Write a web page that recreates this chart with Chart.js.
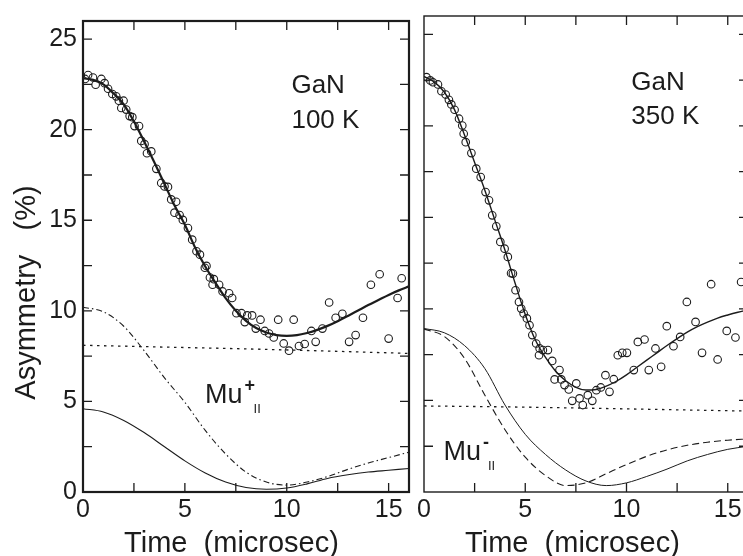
<!DOCTYPE html>
<html><head><meta charset="utf-8">
<script src="https://cdn.jsdelivr.net/npm/chart.js@4/dist/chart.umd.min.js"></script>
<style>
html,body{margin:0;padding:0;background:#fff;overflow:hidden;width:743px;height:556px;position:relative}
canvas{position:absolute;top:0}
#c1{left:0}
#c2{left:400px}
</style></head><body>
<canvas id="c1" width="420" height="556"></canvas>
<canvas id="c2" width="360" height="556"></canvas>
<script>
// ---- tick values ----
const xTickValues = [0, 5, 10, 15];
const yTickValues = [0, 5, 10, 15, 20, 25];
const xMinorValues = [2.5, 7.5, 12.5];
const yMinorValues = [2.5, 7.5, 12.5, 17.5, 22.5];

// ---- fit curves (time in microsec, asymmetry in %) ----
const fitTime = [0,0.5,1,1.5,2,2.5,3,3.5,4,4.5,5,5.5,6,6.5,7,7.5,8,8.5,9,9.5,10,10.5,11,11.5,12,12.5,13,13.5,14,14.5,15,15.5,16];
const fit100K = [22.85,22.75,22.5,22.0,21.4,20.45,19.35,18.2,17.0,15.8,14.75,13.5,12.45,11.55,10.7,10.0,9.45,9.05,8.8,8.66,8.62,8.66,8.78,8.95,9.17,9.43,9.72,10.02,10.32,10.6,10.88,11.13,11.35];
const fit350K = [22.7,22.4,21.85,20.9,19.5,18.0,16.5,14.85,13.2,11.4,9.7,8.3,7.35,6.6,6.08,5.72,5.57,5.6,5.78,6.05,6.4,6.8,7.2,7.6,8.0,8.38,8.73,9.03,9.28,9.5,9.67,9.82,9.95];

const compTime = [0,1,2,3,4,5,6,7,8,9,10,11,12,13,14,15,16];
const muPlus100K  = [10.2,9.95,9.15,7.8,6.3,4.95,3.4,2.1,1.1,0.55,0.38,0.55,0.85,1.25,1.6,1.9,2.2];
const solid100K   = [4.6,4.42,3.95,3.28,2.5,1.72,1.05,0.55,0.25,0.15,0.22,0.45,0.75,0.95,1.1,1.2,1.3];
const muMinus350K = [8.9,8.5,7.3,5.3,3.4,1.9,0.9,0.35,0.5,1.0,1.5,1.95,2.3,2.55,2.72,2.83,2.9];
const solid350K   = [8.93,8.7,8.0,6.75,4.75,3.15,2.05,1.2,0.6,0.35,0.5,0.85,1.25,1.7,2.05,2.33,2.5];

const flatTime = [0, 4, 8, 12, 16];
const flat100K = [8.1, 8.0, 7.9, 7.78, 7.65];
const flat350K = [4.7, 4.65, 4.58, 4.5, 4.42];

// ---- measured data points ----
const data100K_t = [0.1,0.25,0.49,0.62,0.9,1.06,1.23,1.44,1.63,1.76,1.88,1.99,2.12,2.29,2.42,2.53,2.75,2.86,3.02,3.14,3.35,3.6,3.84,4.0,4.17,4.33,4.49,4.57,4.74,4.9,5.15,5.36,5.57,5.74,5.98,6.06,6.23,6.36,6.42,6.68,6.85,7.17,7.32,7.53,7.78,7.94,8.06,8.3,8.48,8.71,8.92,9.13,9.36,9.58,9.85,10.11,10.34,10.6,10.88,11.21,11.42,11.75,12.08,12.4,12.73,13.06,13.38,13.74,14.13,14.56,15.0,15.44,15.64];
const data100K_a = [22.8,23.02,22.88,22.48,22.8,22.57,22.26,21.97,21.84,21.6,21.2,21.6,21.11,20.75,20.69,20.2,20.2,19.38,19.2,18.7,18.8,17.84,17.06,16.87,16.84,16.15,15.42,16.02,15.29,15.02,14.57,13.93,13.29,13.1,12.38,12.48,11.84,11.44,11.75,11.44,11.07,10.97,10.71,9.87,9.87,9.38,9.75,9.75,9.02,9.51,8.89,8.75,8.53,9.51,8.2,7.8,9.51,8.06,8.17,8.89,8.29,9.02,10.46,9.62,9.84,8.29,8.66,9.62,11.44,12.02,8.47,10.71,11.8];

const data350K_t = [0.12,0.31,0.44,0.69,0.86,1.07,1.23,1.35,1.51,1.73,1.89,1.96,2.06,2.34,2.58,2.8,3.04,3.21,3.37,3.57,3.77,3.98,4.14,4.3,4.39,4.52,4.69,4.8,4.92,5.08,5.21,5.35,5.54,5.68,5.71,5.87,6.12,6.33,6.45,6.69,6.78,6.94,7.15,7.32,7.52,7.68,7.84,8.09,8.31,8.51,8.73,8.96,9.16,9.37,9.57,9.79,10.02,10.36,10.56,10.89,11.1,11.43,11.71,11.99,12.32,12.65,12.98,13.41,13.73,14.18,14.5,14.95,15.38,15.66];
const data350K_a = [22.66,22.48,22.38,22.26,21.89,21.71,21.42,21.17,20.88,20.39,20.02,19.57,19.11,18.51,17.66,17.2,16.38,15.93,15.11,14.51,13.66,13.29,12.84,11.95,11.93,11.02,10.38,10.02,9.75,9.48,9.11,8.57,8.11,7.47,7.84,7.75,7.75,7.16,6.15,6.66,6.15,5.84,5.6,4.98,5.93,5.11,4.75,5.29,4.98,5.56,5.71,6.38,5.47,6.16,7.47,7.6,7.6,6.66,8.2,8.33,6.66,7.84,6.84,9.06,7.96,8.47,10.38,9.29,7.6,11.35,7.24,8.8,8.44,11.47];

// ---- helpers ----
const FONT = '"Liberation Sans", Arial, Helvetica, sans-serif';
const INK = '#1c1c1c';
const zip = (xs, ys) => xs.map((x, i) => ({x: x, y: ys[i]}));

function lineSet(xs, ys, width, dash) {
  return {type: 'line', data: zip(xs, ys), borderColor: INK, borderWidth: width,
    borderDash: dash || [], pointRadius: 0, fill: false,
    cubicInterpolationMode: 'monotone', tension: 0.4};
}
function pointSet(xs, ys) {
  return {type: 'scatter', data: zip(xs, ys), showLine: false, pointStyle: 'circle',
    pointRadius: 3.8, borderWidth: 1.1, borderColor: INK, backgroundColor: 'rgba(0,0,0,0)'};
}
function makeScales(showYLabels, yWidth) {
  return {
    x: {type: 'linear', min: 0, max: 16,
      grid: {display: false, drawTicks: false}, border: {display: false},
      ticks: {font: {family: FONT, size: 25}, color: INK, padding: 3, autoSkip: false, maxRotation: 0, minRotation: 0},
      afterBuildTicks: s => { s.ticks = xTickValues.map(v => ({value: v})); },
      afterFit: s => { s.height = 64; }},
    y: {type: 'linear', min: 0, max: 26,
      grid: {display: false, drawTicks: false}, border: {display: false},
      ticks: {display: showYLabels, font: {family: FONT, size: 25}, color: INK, padding: 6},
      afterBuildTicks: s => { s.ticks = yTickValues.map(v => ({value: v})); },
      afterFit: s => { s.width = yWidth; }}
  };
}
function framePlugin(lw) {
  return {id: 'frame', afterDatasetsDraw(chart) {
    const {ctx, chartArea: a, scales: {x, y}} = chart;
    ctx.save();
    ctx.strokeStyle = INK;
    ctx.lineWidth = lw;
    ctx.strokeRect(a.left, a.top, a.right - a.left, a.bottom - a.top);
    ctx.lineWidth = 1.3;
    const L = 9;
    ctx.beginPath();
    xTickValues.concat(xMinorValues).forEach(v => {
      if (v <= 0) return;
      const px = x.getPixelForValue(v);
      ctx.moveTo(px, a.bottom); ctx.lineTo(px, a.bottom - L);
      ctx.moveTo(px, a.top); ctx.lineTo(px, a.top + L);
    });
    yTickValues.concat(yMinorValues).forEach(v => {
      if (v <= 0) return;
      const py = y.getPixelForValue(v);
      ctx.moveTo(a.left, py); ctx.lineTo(a.left + L, py);
      ctx.moveTo(a.right, py); ctx.lineTo(a.right - L, py);
    });
    ctx.stroke();
    ctx.restore();
  }};
}
function textPlugin(cfg) {
  return {id: 'texts', afterDraw(chart) {
    const {ctx, scales: {x, y}} = chart;
    ctx.save();
    ctx.fillStyle = INK;
    ctx.textBaseline = 'alphabetic';
    ctx.textAlign = 'left';
    ctx.font = '26px ' + FONT;
    cfg.labels.forEach(l => ctx.fillText(l.text, x.getPixelForValue(l.t), y.getPixelForValue(l.v)));
    // Mu label with superscript and subscript
    const mx = x.getPixelForValue(cfg.mu.t), my = y.getPixelForValue(cfg.mu.v);
    ctx.font = '27px ' + FONT;
    ctx.fillText('Mu', mx, my);
    const w = ctx.measureText('Mu').width;
    ctx.font = 'bold 18px ' + FONT;
    ctx.fillText(cfg.mu.sup, mx + w + 2, my - 12);
    ctx.font = '13px ' + FONT;
    ctx.fillText('II', mx + w + cfg.mu.subDx, my + 10);
    // x axis title
    ctx.font = '29px ' + FONT;
    ctx.textAlign = 'center';
    ctx.fillText('Time  (microsec)', cfg.xTitle.x, cfg.xTitle.y);
    if (cfg.yTitle) {
      ctx.translate(cfg.yTitle.x, cfg.yTitle.y);
      ctx.rotate(-Math.PI / 2);
      ctx.fillText('Asymmetry   (%)', 0, 0);
    }
    ctx.restore();
  }};
}

Chart.defaults.font.family = FONT;
Chart.defaults.color = INK;

new Chart(document.getElementById('c1'), {
  data: {datasets: [
    lineSet(flatTime, flat100K, 1.3, [2.5, 4.5]),
    lineSet(compTime, muPlus100K, 1.1, [6, 3, 1.5, 3]),
    lineSet(compTime, solid100K, 1.1),
    lineSet(fitTime, fit100K, 2.2),
    pointSet(data100K_t, data100K_a)
  ]},
  options: {
    responsive: false, animation: false, devicePixelRatio: 1,
    layout: {padding: {top: 16, right: 11, left: 0, bottom: 0}},
    plugins: {legend: {display: false}, tooltip: {enabled: false}},
    scales: makeScales(true, 83)
  },
  plugins: [framePlugin(2.2), textPlugin({
    labels: [{text: 'GaN', t: 10.23, v: 22.04}, {text: '100 K', t: 10.23, v: 20.08}],
    mu: {t: 5.99, v: 4.93, sup: '+', subDx: 11},
    xTitle: {x: 231.5, y: 552},
    yTitle: {x: 35, y: 292.5}
  })]
});

new Chart(document.getElementById('c2'), {
  data: {datasets: [
    lineSet(flatTime, flat350K, 1.3, [2.5, 4.5]),
    lineSet(compTime, muMinus350K, 1.1, [7, 4]),
    lineSet(compTime, solid350K, 1.0),
    lineSet(fitTime, fit350K, 1.4),
    pointSet(data350K_t, data350K_a)
  ]},
  options: {
    responsive: false, animation: false, devicePixelRatio: 1,
    layout: {padding: {top: 16, right: 12, left: 0, bottom: 0}},
    plugins: {legend: {display: false}, tooltip: {enabled: false}},
    scales: makeScales(false, 24)
  },
  plugins: [framePlugin(1.4), textPlugin({
    labels: [{text: 'GaN', t: 10.24, v: 21.97}, {text: '350 K', t: 10.24, v: 20.1}],
    mu: {t: 0.96, v: 1.75, sup: '-', subDx: 7},
    xTitle: {x: 172.5, y: 552}
  })]
});
</script></body></html>
